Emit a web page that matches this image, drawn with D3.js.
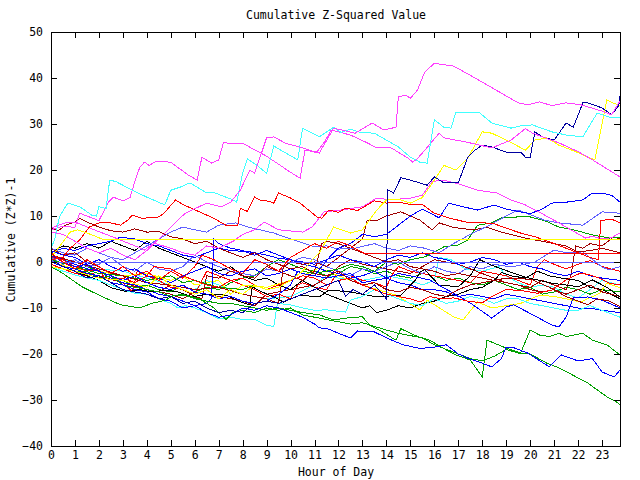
<!DOCTYPE html>
<html><head><meta charset="utf-8">
<script src="https://cdn.jsdelivr.net/npm/d3@7"></script>
<style>
body{margin:0;background:#fff;}
text{font-family:"DejaVu Sans Mono",monospace;font-size:11.5px;fill:#000;}
</style></head>
<body><svg id="c" width="640" height="480"></svg>
<script>
// ---- data: each series is a list of [hour, cumulative value] turning points ----
const title = "Cumulative Z-Squared Value";
const xLabel = "Hour of Day";
const yLabel = "Cumulative (Z*Z)-1";
const xTicks = d3.range(0, 24);
const yTicks = [-40, -30, -20, -10, 0, 10, 20, 30, 40, 50];

const mag1 = [[0,6.5],[0.5,6],[1,4.5],[1.5,3],[2,2],[2.5,3],[3,1.5],[3.5,0.5],[4,2.5],[4.5,5],[5,7.6],[5.6,10.6],[6.5,12.8],[7.1,12],[7.5,13],[7.9,15.6],[8.3,20],[8.5,19.3],[9,27],[9.3,27.2],[9.8,25.8],[10.5,24.8],[11,23.9],[11.2,23.7],[11.8,29.1],[12.7,28],[13.4,30.2],[13.9,28.7],[14.4,29.3],[14.5,35.9],[14.8,36.3],[15,35.6],[15.3,37.4],[15.6,41.3],[16,43.2],[16.8,42.6],[17.6,40.3],[18.5,37.6],[19.5,34.6],[19.9,34.2],[20.4,34.8],[20.9,34],[21.5,34.6],[22.1,34.2],[23,32.8],[23.4,32],[23.75,35]];
const mag2 = [[0,7],[0.5,7.8],[1,7.5],[1.2,10.6],[1.6,9.8],[2,9],[2.4,13],[2.6,14.1],[3,13.3],[3.3,14],[3.5,17.5],[3.7,20.5],[3.9,21.7],[4.1,21],[4.4,21.9],[5,21.7],[5.7,19],[6.1,17.8],[6.3,22.8],[6.7,21.5],[7,22.2],[7.2,26],[7.5,25.7],[8,25.8],[9,23],[10,19.5],[10.4,18.2],[10.6,24.3],[11.1,23.9],[11.4,26],[11.7,28.7],[12.5,27.6],[13.2,25.9],[13.6,24.8],[14.2,24.8],[14.9,22.6],[15.1,21.7],[15.3,22.5],[15.6,24.3],[16.2,28],[16.4,27],[17.4,26],[18.4,24.8],[19.2,26.5],[19.8,29],[20.1,28],[21.2,25.9],[22,24],[22.6,22.2],[23.75,18.5]];
const mag3 = [[0,7.4],[0.6,8.5],[1,8.7],[1.8,7],[2.7,5.2],[3.6,3.3],[3.9,2.6],[4.3,4.1],[5,3],[5.5,2],[6,1.5],[6.5,3.5],[7,3],[7.6,4.5],[8,6],[8.5,7],[8.9,8.7],[9.5,7],[10.5,6.5],[10.9,7.6],[11.4,10.9],[12.1,11.3],[13,12],[13.6,13.9],[14.2,13.5],[15,13.9],[15.5,14.5],[15.9,17.5],[16.4,17.8],[17,17],[17.8,15.6],[18.6,15],[19.2,13.5],[19.8,12.4],[20.5,10.5],[21.2,8.5],[22.3,5.2],[22.6,5.6],[23,5],[23.4,5.3],[23.75,6.3]];
const cyan1 = [[0,3],[0.15,4.8],[0.35,9.8],[0.7,12.8],[1.2,12],[1.7,10.2],[1.9,10],[2,12],[2.3,11.6],[2.45,17.8],[2.7,17.5],[3.4,15.6],[4,14.1],[4.75,12.4],[5,15.6],[5.4,16.3],[5.8,17.2],[6.5,15],[6.75,15.2],[7.6,13.5],[7.75,13],[8,19.3],[8.2,22.4],[8.6,21],[9,19.3],[9.3,25.2],[10.1,22.8],[10.3,22.2],[10.5,29.1],[10.8,28.3],[11.2,27.2],[11.8,29.3],[12.1,28.2],[12.5,28.9],[12.9,28.2],[13.5,28],[14.5,25],[15,22.8],[15.4,21.7],[15.7,21.5],[16,30.9],[16.4,29.3],[16.7,29.1],[16.9,32.6],[17.3,32.4],[17.9,32.4],[18.4,30.2],[19.2,29.1],[19.6,29.6],[20.1,29.8],[20.9,28.3],[21.5,27.6],[22.2,27.2],[22.8,32.4],[23.3,31.5],[23.75,31.3]];
const cyan2 = [[0,-1],[0.5,-2],[1,-2.8],[1.5,-3.5],[2,-4],[2.5,-5],[3,-6],[3.5,-6.8],[4,-7],[4.5,-8],[5,-9],[5.3,-10],[5.6,-9.5],[6,-10],[6.5,-11],[7,-12.3],[7.5,-12],[8,-12.5],[8.5,-12.5],[9,-13.8],[9.3,-14],[9.45,-9],[10,-9.3],[10.5,-10],[11,-10.5],[11.5,-10.4],[12.3,-10.9],[12.5,-8.3],[13,-7.5],[13.5,-6],[14,-7],[14.5,-8],[15,-9],[15.5,-9.5],[16,-8],[16.5,-9],[17,-8.5],[17.5,-7.5],[18,-8],[18.5,-9],[19,-8],[19.5,-8],[20,-9],[20.5,-9.5],[21,-10],[21.5,-10.5],[22,-10.5],[22.5,-9.5],[23,-10.5],[23.75,-12]];
const cyan3 = [[0,1],[1,0],[2,-1.5],[3,-2],[4,-3.5],[5,-5],[6,-6],[6.5,-4],[7,-5],[8,-7],[9,-8],[10,-7.5],[11,-5],[11.5,-3],[12,-3.5],[13,-4],[14,-3],[15,-4],[15.5,-5],[16,-4],[16.2,1],[16.7,0.5],[17.3,-1.5],[18,-2],[18.7,-1],[19,-3],[19.5,-4.5],[20,-5.5],[20.5,-5],[21,-5.5],[21.5,-7],[22,-7.8],[22.5,-6],[23,-4],[23.75,-5]];
const yel1 = [[0,-1],[1,-2],[2,-3.5],[3,-4],[4,-5.5],[4.5,-3],[5,-5],[6,-7],[6.5,-6],[7,-8],[7.5,-6],[8,-7],[8.5,-5],[9,-6],[9.5,-5.5],[10,-4],[10.5,-2],[11,1],[11.2,2],[11.8,7.6],[12.5,6.3],[13,7],[13.6,11.3],[14,13.5],[14.6,13.5],[15,12.8],[15.5,14],[16,17.8],[16.4,21],[16.9,20],[17.4,22.6],[18,28.3],[18.4,28],[19.2,26],[19.8,24.3],[20.2,26.5],[20.7,27],[21.2,25.4],[21.9,24],[22.4,22.8],[22.7,22.2],[23.2,35.2],[23.5,34.5],[23.75,34]];
const yel2 = [[0,1],[0.3,3],[0.8,6.5],[1.1,7],[1.5,6.3],[1.9,5.5],[2.2,4.8],[23.75,4.8]];
const yel3 = [[0,0],[1,-1.5],[2,-2],[3,-3],[4,-2.5],[5,-4],[5.5,-3],[6,-5],[7,-4],[7.5,-7],[8,-5],[9,-5.5],[10,-4],[10.5,-3],[11.2,-1.3],[12,-3],[13,-5],[14.4,-7.2],[15.4,-10.4],[15.7,-8.3],[16.8,-11.9],[17.2,-12.6],[17.8,-8.7],[18.4,-10],[19,-9.5],[19.6,-9],[20.4,-7.2],[21,-7.5],[21.5,-8],[22.1,-8.7],[22.9,-6.8],[23.2,-4.6],[23.75,-5.6]];
const red1 = [[0,0.5],[0.5,1],[0.8,3],[1.2,4.8],[1.6,7.6],[2,8.5],[2.5,8.5],[2.9,8],[3.2,9.1],[3.4,10.2],[3.8,9.5],[4.5,9.8],[4.7,10.5],[5.2,13.5],[5.5,12.5],[6.2,10.9],[6.8,9.5],[7.3,8],[7.8,8],[7.9,11.7],[8.2,11],[8.5,14.1],[8.7,13.5],[9.1,13.2],[9.3,12.8],[9.5,15],[10,13.9],[10.4,12.8],[11.1,9.8],[11.3,9.5],[11.6,11.3],[12,10.8],[12.3,11.7],[12.8,11.2],[13.5,13.3],[14,12.8],[14.5,13],[15,12.5],[15.5,12.5],[16,10.6],[16.6,9.6],[17.3,8.7],[17.9,8.6],[18.5,8.3],[19.2,7],[19.6,6.3],[20.2,5.5],[21,4],[21.5,3],[22,2],[22.5,1],[22.85,0.5],[22.95,9],[23.4,9.3],[23.75,8.5]];
const red2 = [[0,2],[0.5,0],[1,-1.5],[1.5,0.5],[2,-1],[2.5,-2.5],[3,-1],[3.5,-3],[4,-2],[4.5,-4],[5,-2],[5.5,-3.5],[6,-1],[6.3,1.5],[6.8,0.5],[7.5,-1.5],[8,-2.5],[8.5,0.5],[9,-0.5],[9.5,-2],[10,1],[10.5,2.5],[11,4],[11.5,3],[12,4.5],[12.5,3.5],[13.1,1.8],[23.75,1.8]];
const red3 = [[0,1],[0.5,0.5],[1,-1],[1.5,-2],[2,-1.5],[2.3,-4],[3,-3.5],[3.5,-4.5],[4,-3],[4.3,-1],[5,-1.5],[5.5,-3],[6,-4],[6.5,-5],[7,-5.5],[7.5,-4],[8,-3.5],[8.5,-5],[9,-6],[10,-4],[10.5,-3],[11,-3.5],[11.5,-5],[12,-4],[12.5,-3.5],[13,-5],[13.5,-6],[14,-7],[14.5,-7.5],[15,-8],[15.4,-8.7],[15.8,-7.5],[16.3,-8],[16.8,-7.8],[17.4,-8.5],[18,-8.9],[18.4,-7.5],[19,-6],[19.6,-6.2],[20.3,-6.8],[20.9,-6.1],[21.5,-3.9],[22.1,-2.4],[22.5,-2.8],[22.9,-3.5],[23.3,-4.6],[23.75,-5]];
const red4 = [[0,-0.5],[0.5,-1.5],[1,-2.5],[1.5,-3],[2,-2],[2.5,-3.5],[3,-4.5],[3.4,-6.5],[3.6,-2],[4,-3],[4.5,-4],[5,-5.5],[5.5,-6],[6,-7],[6.3,-4],[6.5,-2],[7,-3],[7.5,-4],[8,-5],[8.5,-6],[9,-7.5],[9.5,-7],[10,-8],[10.3,-5],[10.5,-4.5],[11,-5.5],[11.5,-6],[12,-2],[12.5,-3],[13,-4],[13.5,-4.5],[14,-5.5],[14.2,-3],[14.5,-1],[15,-2],[15.5,-2.5],[16,-3],[16.5,-3.5],[17,-4],[17.5,-4.5],[18,-2],[18.5,-2.5],[19,-3],[19.5,-4],[20,-5],[20.3,-1],[20.6,0.5],[21,-0.5],[21.5,-1.5],[22,-0.5],[22.5,0.3],[23,-1],[23.75,-2]];
const dred1 = [[0,7.5],[0.3,6.8],[0.6,8],[1,8.7],[1.2,9.5],[1.5,8.7],[2,7.6],[2.5,6.8],[3,6.5],[3.5,7.2],[4,6.5],[4.5,6.6],[5,5.5],[5.5,5],[6,4],[6.5,4.5],[7,3],[7.5,2],[8,1],[8.5,2],[9,0.5],[9.5,-0.5],[10,-1.5],[10.5,-1],[11,-2.5],[11.5,-3],[12,-2],[12.5,-4],[13,-5],[13.5,-4.5],[14,-6],[14.5,-6.5],[15,-5.5],[15.5,-6],[16,-7],[16.5,-7.5],[17,-6],[17.5,-5],[18,-4.5],[18.5,-4],[19,-3.5],[19.5,-3.5],[20.1,-3.9],[20.8,-5.5],[21.5,-7.5],[22.4,-9.3],[22.8,-8],[23.3,-8.5],[23.75,-9.7]];
const dred2 = [[0,1.5],[1,0],[2,-1.5],[3,-3],[4,-4.5],[5,-5],[6,-6],[7,-5.5],[8,-7],[9,-8],[9.5,-9],[9.7,-1],[10,0],[10.5,-0.5],[11,0],[11.5,-1],[12,1],[12.5,3],[13,5],[13.2,9.1],[13.6,9],[14,10],[14.6,10.9],[15,10],[15.4,9.1],[15.9,7],[16.2,8.5],[16.8,7.5],[17.6,7],[18.2,7.5],[18.8,6.5],[19.8,5.2],[20.9,4.1],[21.5,3.5],[22,2.2],[22.5,2.5],[23,3],[23.75,2]];
const dred3 = [[0,3],[0.5,1.5],[1,2],[1.5,0],[2,-1],[2.5,-2.5],[3,-3],[3.5,-5],[4,-6],[4.5,-6.5],[5,-5],[5.5,-6],[6,-7.5],[6.3,-8],[6.5,-3],[7,-3.5],[7.5,-2],[8,-3],[8.5,-3.5],[9,-1],[9.5,-2],[10,-3],[10.5,-4],[11,-2],[11.3,4],[11.5,4.5],[12,4],[12.5,3],[13,2],[13.5,1],[14,0],[14.5,0.5],[15,-1],[15.5,-1.5],[16,-2],[16.5,-3],[17,-2.5],[17.5,-3],[18,-3.5],[18.5,-4],[19,-4.5],[19.5,-5],[20,-6],[20.5,-6.5],[21,-6],[21.5,-7],[22,-6],[22.5,-5],[23,-6.5],[23.75,-7.5]];
const dred4 = [[0,0],[1,-2],[2,-3],[3,-4.5],[4,-6],[5,-7],[5.5,-8],[6,-6.5],[7,-7.5],[8,-8.5],[8.5,-9.5],[9,-7],[10,-6],[11,-5],[11.5,-3.5],[12,-1],[12.5,0.5],[13,-0.5],[14,-1.5],[15,-2.5],[15.5,-1],[16,0.5],[16.5,0],[17,-0.5],[17.5,-1.5],[18,-2.5],[18.5,-3.5],[19,-4.5],[19.5,-5],[20,-5.5],[20.5,-4],[21,-5],[21.5,-6],[21.7,-3],[21.9,3.5],[22.2,3],[22.5,4],[23,3.5],[23.5,5.5],[23.75,5]];
const grn1 = [[0,0],[0.5,-1],[1,-2],[1.5,-2],[2,-3.5],[2.5,-3],[3,-5],[3.5,-5.5],[4,-6],[4.5,-6.5],[5,-7.5],[5.5,-7],[6,-8],[6.5,-8.5],[7,-9],[7.5,-9],[8,-9.5],[8.5,-10],[9,-10.5],[9.5,-10],[10,-10.5],[10.5,-11],[11.2,-11.5],[11.8,-12.6],[12.3,-12.2],[13,-11.9],[13.3,-13.7],[13.7,-14.8],[14.4,-17],[14.6,-14.5],[15.3,-16.2],[15.8,-17],[16.5,-19.1],[16.9,-20.2],[17.5,-21.3],[18,-25],[18.2,-17],[18.9,-18.5],[19.6,-19.8],[20,-14.8],[20.4,-15.9],[20.8,-16.2],[21.2,-15.5],[21.5,-16.2],[22.2,-15.5],[22.6,-17],[23.2,-18],[23.75,-20.2]];
const grn2 = [[0,-1],[0.5,-2.5],[1.3,-5.4],[2,-7.2],[2.9,-9.3],[3.7,-10],[4.2,-9],[4.8,-8.3],[5.1,-7.2],[5.6,-7.2],[6.2,-8],[6.8,-10],[7.3,-12.5],[7.6,-11],[8,-10.5],[8.5,-11],[9,-10],[9.5,-10.5],[10,-10],[10.5,-11.5],[11,-12],[11.5,-12.5],[12,-13],[12.5,-13.5],[13,-13.2],[13.5,-14],[14,-14.8],[14.5,-15.5],[15,-16],[15.5,-16.5],[16,-18],[16.5,-19],[17,-20],[17.5,-21],[18,-21.5],[18.5,-20.5],[19,-19],[19.5,-19.8],[20,-20],[20.7,-22],[21.2,-23],[22.4,-26.3],[23.2,-29.3],[23.6,-30.4],[23.75,-31]];
const grn3 = [[0,0.5],[1,-1],[2,-2.5],[3,-3],[4,-4],[5,-3],[5.5,-4.5],[6,-4],[7,-5.5],[8,-6],[8.5,-5],[9,-6],[10,-4],[10.5,-2],[11,-2.5],[12,-1.5],[12.5,-0.5],[13,-1],[13.5,-2],[14,0],[14.5,-0.5],[15,0.5],[15.6,1.1],[16.4,3.3],[17,3.7],[17.4,4.8],[17.8,8],[18.4,8.5],[18.8,9.6],[19.5,9.8],[20,9.8],[20.6,9],[21.2,7.6],[21.8,7],[22.6,5.9],[23.3,5.2],[23.75,5.4]];
const grn4 = [[0,2],[0.5,0],[1,-1.5],[1.5,-1],[2,-2],[2.5,-3.5],[3,-4],[3.5,-5.5],[4,-5],[4.5,-6],[5,-6.5],[5.5,-5],[6,-6.5],[6.5,-5.5],[7,-6],[7.5,-4.5],[8,-3.5],[8.5,-3],[9,-1],[9.5,0.5],[10,-0.5],[10.5,-1.5],[11,-2],[11.5,-3],[12,-2.5],[12.5,-1],[13,-1.5],[13.5,-2.5],[14,-2],[14.5,-3],[15,-3.5],[15.5,-2.5],[16,-3],[16.5,-4],[17,-3.5],[17.5,-4.5],[18,-5],[18.5,-4],[19,-5],[19.5,-6],[20,-5.5],[20.5,-7],[21,-6.5],[21.5,-5.5],[22,-6],[22.5,-7],[23,-6],[23.75,-6.5]];
const navy = [[0,0.5],[0.5,-1],[1,-2],[1.5,-3.5],[2,-3],[2.5,-4.5],[3,-6],[3.5,-6.5],[4,-7],[4.5,-8],[5,-7.5],[5.5,-9],[6,-8.5],[6.5,-10],[7,-11],[7.5,-10.5],[8,-11],[8.5,-9],[9,-8.5],[9.5,-9],[10,-8],[10.5,-7],[11,-6],[11.5,-5],[12,-4],[12.3,-7.5],[12.6,-6],[13,-7],[13.5,-5],[14,-8],[14.05,15.7],[14.3,15],[14.6,18.3],[15,17.8],[15.7,16.7],[16,18.5],[16.4,17.2],[17,17.2],[17.2,20],[17.4,22.8],[17.7,24.3],[18,25.4],[18.4,25],[19,23.9],[19.6,23.9],[19.8,22.8],[20,22.8],[20.2,28.3],[20.5,27.2],[21,26.5],[21.5,30.2],[21.8,29.3],[22.2,34.6],[22.4,34.6],[23,33.5],[23.4,32],[23.7,34],[23.75,36]];
const blu2 = [[0,1.5],[0.5,0],[1,-1],[1.5,-0.5],[2,-2],[2.5,-3],[3,-4],[3.5,-3],[4,-4.5],[4.5,-5.5],[5,-6],[5.5,-5],[6,-6.5],[6.5,-7],[7,-8],[7.5,-7.5],[8,-8.5],[8.5,-9],[9,-8.5],[9.5,-7],[10,-5],[10.3,-2],[10.5,-2.5],[11,-3],[11.3,-1],[11.7,1.5],[12,3],[12.5,4],[13,6],[13.5,5.5],[14,6],[14.5,8],[15,10],[15.5,11.5],[16.2,9.6],[16.6,12.8],[17.2,12],[17.8,11.3],[18.5,12.4],[19,11.5],[19.5,11],[20,10.5],[20.5,11.5],[20.9,12.8],[21.5,13],[22.2,13.5],[22.6,15],[23,15],[23.4,14.5],[23.75,13]];
const blu4 = [[0,2.5],[0.5,1.5],[1,1],[1.5,-0.5],[2,0.5],[2.5,-1],[3,-2],[3.5,-1.5],[4,-3],[4.5,-3.5],[5,-4.5],[5.5,-3],[6,-2],[6.5,-1],[7,-2.5],[7.5,-3],[8,-2],[8.5,-1.5],[9,-3],[9.5,-2.5],[10,-1.5],[10.5,-2.5],[11,-3],[11.5,-3.5],[12,-3],[12.5,-2.5],[13,-4.5],[13.5,-4],[14,-3.5],[14.5,-2.5],[15,-3],[15.8,-3.9],[16.8,-6.8],[17.5,-8.9],[18.4,-12.2],[19,-9.8],[19.3,-9.3],[19.9,-10.9],[20.9,-13.7],[21.2,-14.1],[21.5,-12],[21.8,-7.8],[22.4,-7.6],[23,-8.3],[23.75,-10]];
const blu7 = [[0,1.5],[0.5,0.5],[1,-0.5],[1.5,-1.5],[2,-2],[2.5,-3.5],[3,-4.5],[3.5,-5],[4,-6],[4.5,-7],[5,-7.5],[5.5,-8.5],[6,-9.5],[6.5,-9],[6.7,-8],[6.8,5],[7,4],[7.5,3],[8,2.5],[8.5,1.5],[9,2.5],[9.5,1.5],[10,0.5],[10.5,-0.5],[11,-1],[11.5,-2],[12,-2.5],[12.5,-3.5],[13,-3],[13.5,-2],[14,-3.5],[14.5,-4.5],[15,-5],[15.5,-6],[16,-6],[16.5,-6.5],[17,-7.5],[17.5,-7],[18,-7.5],[18.5,-8],[19,-7],[19.5,-7.5],[20,-8],[20.5,-8.5],[21,-9],[21.5,-9.5],[22,-10],[22.5,-10],[23,-10.5],[23.75,-11]];
const blu8 = [[0,2],[0.5,3],[1,2.5],[1.5,3.5],[2,4],[2.5,4.5],[2.9,5.4],[3.5,5],[4,4],[4.5,3.5],[5,2.5],[5.5,1.5],[6,1],[6.5,2],[7,3],[7.5,2.5],[8.3,2.2],[9,1.5],[9.5,0.8],[10,0.5],[10.5,0],[11,-0.5],[11.5,0.5],[12,1.5],[12.5,0.5],[13,0],[13.5,-1],[14,0.5],[14.5,1.5],[15,1],[15.5,2],[16,1],[16.5,0.5],[17,-0.5],[17.5,0],[18,1],[18.5,0.5],[19,-0.5],[19.5,0],[20,-1],[20.5,-1.5],[21,-2.5],[21.5,-3],[22,-2],[22.5,-3],[23,-3.5],[23.75,-4]];
const bluLow = [[0,0],[0.5,-1],[1,-1.5],[1.5,-2.5],[2,-3],[2.5,-4.5],[3,-5],[3.5,-6],[4,-6.5],[4.5,-8],[5,-8.5],[5.5,-10],[6,-9.5],[6.5,-11],[7,-12],[7.5,-11.5],[8,-10],[8.5,-10.5],[9,-9.5],[9.5,-10],[10,-11],[10.5,-12],[11,-13.5],[11.2,-14.3],[11.6,-14.6],[12,-15.5],[12.5,-16.5],[12.8,-15],[13.5,-15.2],[14,-16.5],[14.7,-18],[15.4,-18.8],[16,-18.5],[16.5,-18],[17,-20],[17.4,-20.9],[18,-22],[18.4,-22.8],[18.8,-21],[19,-18.5],[19.3,-18.6],[19.9,-19.8],[20.8,-22.8],[21.3,-20.2],[22,-21.5],[22.6,-21],[23,-23.9],[23.5,-25],[23.75,-23.5]];
const lbFlat = [[0,0.6],[0.1,0],[23.75,0]];
const lb2 = [[0,3],[0.5,2],[1,1.5],[1.5,3],[2,2],[2.5,1],[3,0.5],[3.5,2],[4,3.5],[4.5,5],[5,6.5],[5.5,7.6],[6,7],[6.5,6.5],[7,8],[7.7,8.5],[8.3,7.5],[9.3,6.3],[10,5],[11,3.3],[11.5,3.5],[12,2.8],[12.7,3],[13.5,4],[14,3],[14.5,2.5],[15,3.5],[15.6,3],[16.2,2],[16.8,4],[17.5,6],[18.3,8],[19,10],[19.5,11.3],[20.6,9.1],[21.2,8.5],[22.2,8],[23,10.9],[23.75,10.6]];
const lb3 = [[0,1],[0.5,-0.5],[1,0.5],[1.5,-1],[2,-0.5],[2.5,1],[3,-1],[3.5,-2],[4,0],[4.5,-1.5],[5,-2],[5.5,-1],[6,1.5],[6.5,0],[7,-1],[7.5,-2],[8,-2.5],[8.5,-3],[9,-1.5],[9.5,-2],[10,0],[10.5,1],[11,0.5],[11.5,-1],[12,-2],[12.5,-3],[13,-1.5],[13.5,-2],[14,-1],[14.5,0],[15,-1.5],[15.5,-2.5],[16,-1],[16.5,-2],[17,-2.5],[17.5,-1],[18,-1.5],[18.5,-0.5],[19.2,-1.1],[20.2,0],[21,2.6],[21.5,2],[22.2,2.2],[23,-1.1],[23.3,-1.7],[23.75,-1]];
const blk1 = [[0,0],[0.5,-1],[1,-2],[1.5,-3],[2,-4],[2.5,-5.6],[3.2,-6.5],[3.7,-6],[4.2,-6.5],[4.8,-6.1],[5.3,-6.5],[5.9,-7.6],[6.5,-7],[7.3,-7.2],[7.8,-8.5],[8.3,-9.3],[8.4,-5.4],[8.8,-6.5],[9.3,-7.6],[9.7,-8.7],[10.4,-7.2],[11.2,-7.6],[11.6,-6.1],[12.5,-6.5],[13.6,-7.6],[14.6,-7.2],[15.2,-4],[15.4,-2.2],[15.6,-1.7],[16.2,-5],[17,-5.4],[17.5,-3],[17.9,0.5],[18.3,-0.5],[18.8,-1.5],[19.8,-3.3],[20.9,-4.6],[21.5,-5],[22,-5.4],[22.6,-3.9],[23.2,-5.5],[23.75,-7.6]];
const blk2 = [[0,2],[0.5,3.5],[1,3],[1.5,4],[2,3],[2.5,4.5],[3,3.5],[3.5,2.5],[4,4.5],[4.5,3],[5,2],[5.5,1],[6,0],[6.5,-1],[7,-2],[7.5,-1],[8,-3],[8.5,-4],[9,-3.5],[9.5,-5],[10,-6],[10.5,-4],[11,-5.5],[11.5,-7],[12,-8],[12.5,-9],[13,-10],[13.3,-9.5],[13.6,-11],[14,-10.5],[14.5,-9.5],[15,-10],[15.5,-9],[16,-8.5],[16.5,-7.5],[17,-7],[17.5,-6],[18,-5.5],[18.5,-4],[18.8,-2.3],[19.2,-3],[19.8,-3.5],[20.3,-2],[20.8,-3],[21.3,-3.5],[22,-4],[22.5,-5.5],[23,-6],[23.75,-8]];

// draw order and colours (styles kept apart from the data)
const seriesList = [cyan3, grn4, dred4, red4, blk2, blu8, lb3, yel3, dred3, blu7, blk1, cyan2, blu4, grn3, dred1, red3, dred2, grn2, grn1, bluLow, lb2, blu2, mag3, red1, yel1, navy, mag2, cyan1, mag1, yel2, lbFlat, red2];
const seriesColors = ["#40ffff","#00a000","#a00000","#ff0000","#000000","#0000ff","#6060ff","#ffff00","#a00000","#0000ff","#000000","#40ffff","#0000ff","#00a000","#a00000","#ff0000","#a00000","#00a000","#00a000","#0000ff","#6060ff","#0000ff","#ff40ff","#ff0000","#ffff00","#0000a0","#ff40ff","#40ffff","#ff40ff","#ffff00","#6060ff","#ff0000"];

// ---- drawing ----
const svg = d3.select("#c");
svg.append("rect").attr("width",640).attr("height",480).attr("fill","#fff");
const L = 51, R = 620, T = 32, B = 446;
const x = d3.scaleLinear().domain([0, 23.75]).range([L, R]);
const y = d3.scaleLinear().domain([-40, 50]).range([B, T]);

const plot = svg.append("g");
const line = d3.line().x(d => x(d[0])).y(d => y(d[1]));
plot.selectAll("path.s").data(seriesList).join("path")
  .attr("class","s")
  .attr("d", line)
  .attr("fill","none")
  .attr("stroke", (d,i) => seriesColors[i])
  .attr("stroke-width",1)
  .attr("shape-rendering","crispEdges");

// axes with inward (mirrored) ticks, gnuplot style
const tk = 6;
const ax = svg.append("g").attr("shape-rendering","crispEdges");
ax.append("g").attr("transform",`translate(0,${B})`)
  .call(d3.axisBottom(x).tickValues(xTicks).tickSize(-tk).tickPadding(5).tickFormat(d3.format("d")));
ax.append("g").attr("transform",`translate(0,${T})`)
  .call(d3.axisTop(x).tickValues(xTicks).tickSize(-tk).tickFormat(""));
ax.append("g").attr("transform",`translate(${L},0)`)
  .call(d3.axisLeft(y).tickValues(yTicks).tickSize(-tk).tickPadding(8).tickFormat(d3.format("d")));
ax.append("g").attr("transform",`translate(${R},0)`)
  .call(d3.axisRight(y).tickValues(yTicks).tickSize(-tk).tickFormat(""));
ax.selectAll(".domain").remove();
ax.selectAll("line").attr("stroke","#000");
ax.selectAll("text").attr("font-family","DejaVu Sans Mono").attr("font-size","11.5px").attr("fill","#000");
svg.append("rect").attr("x",L).attr("y",T).attr("width",R-L).attr("height",B-T)
  .attr("fill","none").attr("stroke","#000").attr("shape-rendering","crispEdges");

svg.append("text").attr("x",336).attr("y",19).attr("text-anchor","middle").text(title);
svg.append("text").attr("x",336).attr("y",476).attr("text-anchor","middle").text(xLabel);
svg.append("text").attr("transform","translate(15,240) rotate(-90)").attr("text-anchor","middle").text(yLabel);
</script></body></html>
